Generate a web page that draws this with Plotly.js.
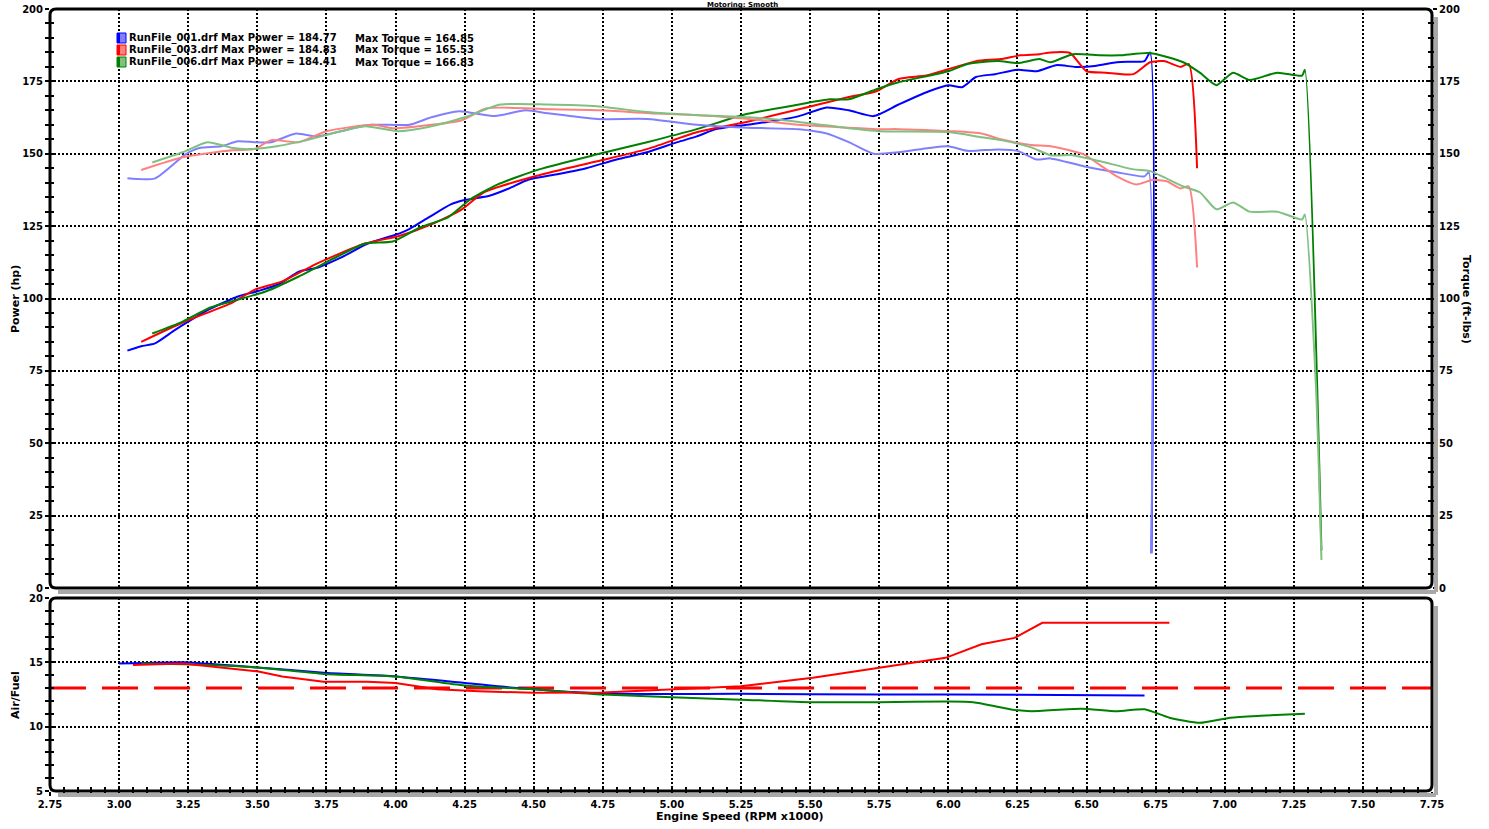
<!DOCTYPE html>
<html>
<head>
<meta charset="utf-8">
<script src="https://cdn.plot.ly/plotly-3.0.1.min.js"></script>
<style>
html,body{margin:0;padding:0;background:#fff;}
#chart{width:1489px;height:829px;}
</style>
</head>
<body>
<div id="chart"></div>
<script>
// ---------- DATA ----------
const runNames = ["RunFile_001.drf", "RunFile_003.drf", "RunFile_006.drf"];
const maxPower = ["184.77", "184.83", "184.41"];
const maxTorque = ["164.85", "165.53", "166.83"];

// Run 001 (blue)
const rpm001Power = [3.03,3.08,3.13,3.20,3.25,3.32,3.43,3.50,3.58,3.65,3.72,3.80,3.90,4.00,4.05,4.12,4.20,4.25,4.34,4.41,4.48,4.59,4.69,4.80,4.91,5.02,5.09,5.16,5.27,5.38,5.46,5.56,5.64,5.73,5.82,5.93,6.00,6.05,6.10,6.17,6.25,6.32,6.39,6.46,6.53,6.61,6.66,6.71,6.73,6.735];
const power001 =    [82,83.5,84.5,89,92,96,100.7,102.5,105,109.3,110.7,114,119,122,124,128,132.5,134,135.5,138,141,143,145,148,150.5,154,156,158.5,160,161.5,163,166,165,163,167,171.6,173.7,173,176.5,177.5,179,178.5,180.6,180,180.3,181.6,181.8,182,185,12];
const rpm001Torque = [3.03,3.13,3.24,3.29,3.37,3.43,3.49,3.55,3.64,3.71,3.79,3.91,4.05,4.13,4.23,4.36,4.47,4.55,4.73,4.91,5.09,5.27,5.46,5.56,5.64,5.73,5.82,5.93,6.00,6.07,6.18,6.25,6.32,6.37,6.49,6.61,6.71,6.725,6.735];
const torque001 =    [141.5,141.5,149.8,152,152.6,154.3,154,154,157,156,157.5,160,160,162.6,164.7,163,165,164,162,162,160,159,158.5,157,154,150,150.5,152,152.6,151,151.5,151,148,148.4,145.7,143.6,142.2,143.6,12];

// Run 003 (red)
const rpm003Power = [3.08,3.23,3.41,3.49,3.59,3.71,3.89,4.01,4.13,4.24,4.32,4.52,4.73,4.91,5.09,5.27,5.46,5.64,5.74,5.82,5.92,6.00,6.10,6.19,6.26,6.33,6.37,6.44,6.50,6.57,6.67,6.73,6.78,6.84,6.87,6.90];
const power003 =    [85,91.7,98.6,103,105.9,111.8,119,121.5,125.6,130.8,136.7,142.6,147.4,151.6,157.4,161,165.4,169.6,171.6,175.8,177,179.2,182,182.7,184,184.4,185,184.8,178.5,178,177.5,181.6,182,180,181,145];
const rpm003Torque = [3.08,3.23,3.41,3.49,3.55,3.65,3.75,3.92,3.99,4.13,4.24,4.33,4.55,4.74,4.92,5.10,5.28,5.46,5.64,5.75,5.82,6.01,6.12,6.19,6.30,6.37,6.49,6.55,6.61,6.68,6.74,6.79,6.84,6.87,6.90];
const torque003 =    [144.4,148.8,151.2,151.6,154.7,154,157.8,160,158.8,160,161.6,165.7,165.4,165,164,163.3,162,160,159,158.5,158.5,157.8,157,155,153,152.6,149.8,146,142.2,139.4,141,140.5,138,138.7,110.7];

// Run 006 (green)
const rpm006Power = [3.12,3.23,3.33,3.43,3.53,3.65,3.79,3.89,3.99,4.09,4.19,4.27,4.37,4.52,4.73,4.91,5.09,5.27,5.46,5.57,5.64,5.74,5.82,6.00,6.07,6.18,6.25,6.33,6.37,6.45,6.55,6.62,6.73,6.85,6.91,6.97,7.03,7.09,7.19,7.28,7.29,7.35];
const power006 =    [87.9,92,96.9,99.6,102.4,107.6,114.5,119,119.7,124.6,128,134.2,139.4,144.6,149.8,154,158.5,163.7,167,168.8,168.8,172.3,174.7,178.5,181,182,181.3,182.7,181.6,184.4,184,184,184.8,181.6,178,173.7,178,175.5,178,177,179,13];
const rpm006Torque = [3.12,3.23,3.32,3.41,3.47,3.57,3.68,3.77,3.89,4.01,4.13,4.25,4.38,4.55,4.73,4.91,5.10,5.28,5.46,5.64,5.75,6.00,6.12,6.19,6.30,6.37,6.45,6.55,6.67,6.73,6.85,6.91,6.97,7.03,7.09,7.19,7.28,7.29,7.33,7.35];
const torque006 =    [147,150.5,154,152,151.6,152.6,154.7,157,159.5,157.8,159.5,162.6,167,167,166.4,164.4,163.3,162.6,161,158.8,157.8,157.5,155.7,154.7,152.2,149.5,149.5,147.4,144.6,144,138.7,136.7,130.8,133.2,130,130,127.3,129,70,9.7];

// Air / Fuel
const rpm001AFR = [3.00,3.10,3.23,3.50,3.74,4.00,4.25,4.44,4.75,5.25,5.75,6.25,6.71];
const afr001 =    [14.9,14.95,15.0,14.6,14.2,13.9,13.4,13.0,12.57,12.55,12.5,12.48,12.42];
const rpm003AFR = [3.05,3.23,3.50,3.59,3.74,3.90,4.00,4.15,4.30,4.50,4.75,4.99,5.25,5.51,5.75,5.99,6.12,6.24,6.34,6.80];
const afr003 =    [14.8,14.9,14.3,13.9,13.5,13.5,13.4,12.9,12.75,12.63,12.65,12.88,13.14,13.8,14.6,15.35,16.4,16.9,18.07,18.07];
const rpm006AFR = [3.08,3.23,3.50,3.74,4.00,4.25,4.50,4.75,5.25,5.51,5.75,5.99,6.09,6.24,6.30,6.48,6.61,6.71,6.80,6.91,7.02,7.13,7.29];
const afr006 =    [14.9,14.85,14.6,14.1,13.9,13.2,12.9,12.5,12.1,11.9,11.9,11.95,11.9,11.3,11.2,11.4,11.2,11.35,10.7,10.3,10.7,10.85,11.0];
const targetRPM = [2.75, 7.75];
const targetAFR = [13, 13];

const xTicks = [2.75,3.00,3.25,3.50,3.75,4.00,4.25,4.50,4.75,5.00,5.25,5.50,5.75,6.00,6.25,6.50,6.75,7.00,7.25,7.50,7.75];

// ---------- STYLE ----------
const dark = ["#0000ff", "#ff0000", "#008000"];
const light = ["#8080ff", "#ff8080", "#80c080"];
const FONT = "DejaVu Sans, Verdana, sans-serif";

function line(x, y, color, xa, ya, w, dash, shape) {
  return {x:x, y:y, type:"scatter", mode:"lines", xaxis:xa, yaxis:ya,
    line:{color:color, width:w||2, shape:shape||"spline", smoothing:0.6, dash:dash||"solid"},
    hoverinfo:"skip", showlegend:false};
}

const traces = [
  line(rpm001Torque, torque001, light[0], "x", "y3"),
  line(rpm003Torque, torque003, light[1], "x", "y3"),
  line(rpm006Torque, torque006, light[2], "x", "y3"),
  line(rpm001Power, power001, dark[0], "x", "y"),
  line(rpm003Power, power003, dark[1], "x", "y"),
  line(rpm006Power, power006, dark[2], "x", "y"),
  {x:targetRPM, y:targetAFR, type:"scatter", mode:"lines", xaxis:"x2", yaxis:"y2",
    line:{color:"#ff0000", width:3, dash:"36px,16px"}, hoverinfo:"skip", showlegend:false},
  line(rpm001AFR, afr001, dark[0], "x2", "y2"),
  line(rpm006AFR, afr006, dark[2], "x2", "y2"),
  line(rpm003AFR, afr003, dark[1], "x2", "y2", 2, "solid", "linear")
];

// pixel helpers (plot area: x 50..1432, y 9..791)
const L = 50, R = 1432, T = 9, B = 791;
const W = R - L, H = B - T;
const px = v => (v - L) / W;
const py = v => (B - v) / H;
const topDom = [py(588), 1];
const botDom = [0, py(598)];

const gridStyle = {showgrid:true, gridcolor:"#000", gridwidth:2, griddash:"2px,2px"};
const tickFont = {family:FONT, size:10, color:"#000", weight:"bold"};
const tk = (dir) => ({ticks:dir, ticklen:4, tickwidth:2, tickcolor:"#000"});

function framePath(x0, y0, x1, y1) {
  const rx = 6 / W, ry = 6 / H;
  return `M ${x0+rx},${y0} L ${x1-rx},${y0} Q ${x1},${y0} ${x1},${y0+ry} L ${x1},${y1-ry} Q ${x1},${y1} ${x1-rx},${y1} L ${x0+rx},${y1} Q ${x0},${y1} ${x0},${y1-ry} L ${x0},${y0+ry} Q ${x0},${y0} ${x0+rx},${y0} Z`;
}
function shadow(y0, y1) {
  const ox = 4 / W, oy = 4 / H;
  return [
    {type:"line", xref:"paper", yref:"paper", x0:1+ox, x1:1+ox, y0:y1-8/H, y1:y0-oy, line:{color:"#a8a8a8", width:4}},
    {type:"line", xref:"paper", yref:"paper", x0:8/W, x1:1+ox, y0:y0-oy, y1:y0-oy, line:{color:"#a8a8a8", width:4}}
  ];
}

const shapes = [].concat(
  shadow(topDom[0], topDom[1]),
  shadow(botDom[0], botDom[1]),
  [
    {type:"path", xref:"paper", yref:"paper", path:framePath(0, topDom[0], 1, topDom[1]), line:{color:"#000", width:3}},
    {type:"path", xref:"paper", yref:"paper", path:framePath(0, botDom[0], 1, botDom[1]), line:{color:"#000", width:3}}
  ]
);

// legend swatches
const annotations = [];
for (let i = 0; i < 3; i++) {
  const yc = 38 + i * 12;
  shapes.push({type:"rect", xref:"paper", yref:"paper", x0:px(117), x1:px(126), y0:py(yc+5), y1:py(yc-5),
    fillcolor:light[i], line:{color:dark[i], width:1}});
  shapes.push({type:"rect", xref:"paper", yref:"paper", x0:px(117), x1:px(120), y0:py(yc+5), y1:py(yc-5),
    fillcolor:dark[i], line:{width:0}});
  annotations.push({xref:"paper", yref:"paper", x:px(127), y:py(yc), xanchor:"left", yanchor:"middle", showarrow:false,
    text:runNames[i] + " Max Power = " + maxPower[i], font:{family:FONT, size:10, color:"#000", weight:"bold"}});
  annotations.push({xref:"paper", yref:"paper", x:px(353), y:py(yc), xanchor:"left", yanchor:"middle", showarrow:false,
    text:"Max Torque = " + maxTorque[i], font:{family:FONT, size:10, color:"#000", weight:"bold"}});
}
const titleFont = {family:FONT, size:11, color:"#000", weight:"bold"};
annotations.push({xref:"paper", yref:"paper", x:px(15), y:py(299), textangle:-90, showarrow:false, xanchor:"center", yanchor:"middle", text:"Power (hp)", font:titleFont});
annotations.push({xref:"paper", yref:"paper", x:px(1467), y:py(299), textangle:90, showarrow:false, xanchor:"center", yanchor:"middle", text:"Torque (ft-lbs)", font:titleFont});
annotations.push({xref:"paper", yref:"paper", x:px(15), y:py(695), textangle:-90, showarrow:false, xanchor:"center", yanchor:"middle", text:"Air/Fuel", font:titleFont});
annotations.push({xref:"paper", yref:"paper", x:px(740), y:py(816), showarrow:false, xanchor:"center", yanchor:"middle", text:"Engine Speed (RPM x1000)", font:titleFont});
annotations.push({xref:"paper", yref:"paper", x:px(742), y:py(0), showarrow:false, xanchor:"center", yanchor:"top", borderpad:0, text:"Motoring: Smooth", font:{family:FONT, size:7, color:"#000", weight:"bold"}});

const layout = {
  width:1489, height:829,
  margin:{l:L, r:1489-R, t:T, b:829-B, pad:0},
  paper_bgcolor:"#fff", plot_bgcolor:"#fff",
  showlegend:false, hovermode:false,
  font:{family:FONT, size:10, color:"#000"},
  xaxis:Object.assign({domain:[0,1], anchor:"y", range:[2.75,7.75], tickmode:"array", tickvals:xTicks,
    showticklabels:false, ticks:"", zeroline:false, showline:false}, gridStyle),
  yaxis:Object.assign({domain:topDom, anchor:"x", range:[0,200], tick0:0, dtick:25}, tk("outside"), {
    minor:Object.assign({dtick:5, tick0:0, showgrid:false}, tk("outside")),
    tickfont:tickFont, zeroline:false, showline:false}, gridStyle),
  yaxis3:Object.assign({overlaying:"y", side:"right", anchor:"x", range:[0,200], tick0:0, dtick:25}, tk("outside"), {
    minor:Object.assign({dtick:5, tick0:0, showgrid:false}, tk("outside")),
    tickfont:tickFont, showgrid:false, zeroline:false, showline:false}),
  yaxis4:Object.assign({overlaying:"y", side:"left", anchor:"x", range:[0,200], tick0:0, dtick:25}, tk("inside"), {
    minor:Object.assign({dtick:5, tick0:0, showgrid:false}, tk("inside")),
    showticklabels:false, showgrid:false, zeroline:false, showline:false}),
  yaxis5:Object.assign({overlaying:"y", side:"right", anchor:"x", range:[0,200], tick0:0, dtick:25}, tk("inside"), {
    minor:Object.assign({dtick:5, tick0:0, showgrid:false}, tk("inside")),
    showticklabels:false, showgrid:false, zeroline:false, showline:false}),
  xaxis2:Object.assign({domain:[0,1], anchor:"y2", range:[2.75,7.75], tickmode:"array", tickvals:xTicks,
    ticktext:xTicks.map(v => v.toFixed(2))}, tk("outside"), {
    minor:Object.assign({dtick:0.05, tick0:2.75, showgrid:false}, tk("outside")),
    tickfont:tickFont, zeroline:false, showline:false}, gridStyle),
  xaxis3:Object.assign({overlaying:"x2", anchor:"y2", range:[2.75,7.75], tick0:2.75, dtick:0.25}, tk("inside"), {
    minor:Object.assign({dtick:0.05, tick0:2.75, showgrid:false}, tk("inside")),
    showticklabels:false, showgrid:false, zeroline:false, showline:false}),
  yaxis2:Object.assign({domain:botDom, anchor:"x2", range:[5,20], tick0:5, dtick:5}, tk("outside"), {
    minor:Object.assign({dtick:1, tick0:5, showgrid:false}, tk("outside")),
    tickfont:tickFont, zeroline:false, showline:false}, gridStyle),
  yaxis6:Object.assign({overlaying:"y2", side:"left", anchor:"x2", range:[5,20], tick0:5, dtick:5}, tk("inside"), {
    minor:Object.assign({dtick:1, tick0:5, showgrid:false}, tk("inside")),
    showticklabels:false, showgrid:false, zeroline:false, showline:false}),
  shapes:shapes,
  annotations:annotations
};

// invisible helper traces so the tick-only overlay axes are drawn
traces.push({x:[], y:[], type:"scatter", xaxis:"x", yaxis:"y4", hoverinfo:"skip", showlegend:false});
traces.push({x:[], y:[], type:"scatter", xaxis:"x", yaxis:"y5", hoverinfo:"skip", showlegend:false});
traces.push({x:[], y:[], type:"scatter", xaxis:"x3", yaxis:"y2", hoverinfo:"skip", showlegend:false});
traces.push({x:[], y:[], type:"scatter", xaxis:"x2", yaxis:"y6", hoverinfo:"skip", showlegend:false});

Plotly.newPlot("chart", traces, layout, {staticPlot:true, displayModeBar:false});
</script>
</body>
</html>
